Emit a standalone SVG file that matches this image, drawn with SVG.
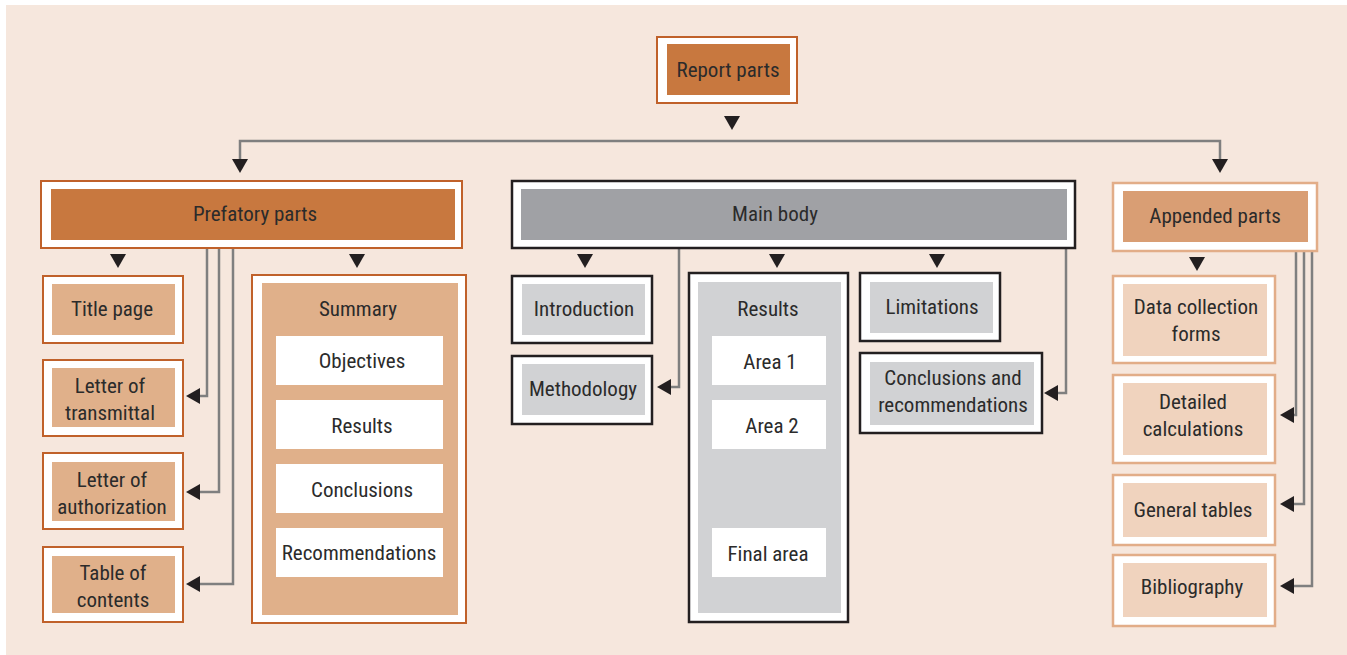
<svg xmlns="http://www.w3.org/2000/svg" width="1347" height="655" viewBox="0 0 1347 655">
<defs>
<style>
.t{font-family:"Liberation Sans Narrow","Roboto Condensed","DejaVu Sans Condensed","Liberation Sans",sans-serif;font-size:21px;fill:#2b2b2b;text-anchor:middle;dominant-baseline:central}
.ow{fill:#ffffff;stroke:#c0612a;stroke-width:2}
.ob{fill:#ffffff;stroke:#231f20;stroke-width:2.5}
.oa{fill:#ffffff;stroke:#e2ad88;stroke-width:2.5}
.f1{fill:#c8783f}
.f2{fill:#e0b08a}
.g1{fill:#a0a1a5}
.g2{fill:#d1d2d4}
.a1{fill:#d99e74}
.a2{fill:#f0d3be}
.w{fill:#ffffff}
.ln{fill:none;stroke:#7f7f7f;stroke-width:2.5}
.ar{fill:#231f20}
</style>
<path id="dn" d="M-8,-14 L8,-14 L0,0 Z"/>
<path id="lt" d="M0,0 L14,-8 L14,8 Z"/>
</defs>
<rect x="6" y="5" width="1341" height="650" fill="#f6e7dd"/>

<g id="connectors">
<path class="ln" d="M240,160 V141 H1220 V160"/>
<path class="ln" d="M207,248 V396 H198"/>
<path class="ln" d="M219,248 V492 H198"/>
<path class="ln" d="M233,248 V584 H198"/>
<path class="ln" d="M679,247 V387 H669"/>
<path class="ln" d="M1066,247 V393 H1056"/>
<path class="ln" d="M1296,251 V415 H1292"/>
<path class="ln" d="M1304,251 V504 H1292"/>
<path class="ln" d="M1312,251 V586 H1292"/>
<g class="ar">
<use href="#dn" x="732" y="130"/>
<use href="#dn" x="240" y="173"/>
<use href="#dn" x="1220" y="173"/>
<use href="#dn" x="118" y="268"/>
<use href="#dn" x="357" y="268"/>
<use href="#dn" x="585" y="268"/>
<use href="#dn" x="777" y="268"/>
<use href="#dn" x="937" y="268"/>
<use href="#dn" x="1197" y="271"/>
<use href="#lt" x="186" y="396"/>
<use href="#lt" x="186" y="492"/>
<use href="#lt" x="186" y="584"/>
<use href="#lt" x="657" y="387"/>
<use href="#lt" x="1044" y="393"/>
<use href="#lt" x="1280" y="415"/>
<use href="#lt" x="1280" y="504"/>
<use href="#lt" x="1280" y="586"/>
</g>
</g>

<g id="report-parts">
<rect class="ow" x="657" y="37" width="140" height="66"/>
<rect class="f1" x="667" y="44" width="123" height="51"/>
<text class="t" x="728" y="70">Report parts</text>
</g>

<g id="prefatory-parts">
<rect class="ow" x="41" y="181" width="421" height="67"/>
<rect class="f1" x="51" y="189" width="404" height="51"/>
<text class="t" x="255" y="214">Prefatory parts</text>
</g>
<g id="title-page">
<rect class="ow" x="43" y="276" width="140" height="67"/>
<rect class="f2" x="52" y="284" width="123" height="51"/>
<text class="t" x="112" y="309">Title page</text>
</g>
<g id="letter-of-transmittal">
<rect class="ow" x="43" y="360" width="140" height="76"/>
<rect class="f2" x="52" y="368" width="123" height="59"/>
<text class="t" x="110" y="386">Letter of</text>
<text class="t" x="110" y="413">transmittal</text>
</g>
<g id="letter-of-authorization">
<rect class="ow" x="43" y="453" width="140" height="76"/>
<rect class="f2" x="52" y="462" width="123" height="59"/>
<text class="t" x="112" y="480">Letter of</text>
<text class="t" x="112" y="507">authorization</text>
</g>
<g id="table-of-contents">
<rect class="ow" x="43" y="547" width="140" height="75"/>
<rect class="f2" x="52" y="556" width="123" height="57"/>
<text class="t" x="113" y="573">Table of</text>
<text class="t" x="113" y="600">contents</text>
</g>
<g id="summary">
<rect class="ow" x="252" y="275" width="214" height="348"/>
<rect class="f2" x="262" y="283" width="196" height="332"/>
<text class="t" x="358" y="309">Summary</text>
<rect class="w" x="276" y="336" width="167" height="49"/>
<text class="t" x="362" y="361">Objectives</text>
<rect class="w" x="276" y="400" width="167" height="49"/>
<text class="t" x="362" y="426">Results</text>
<rect class="w" x="276" y="464" width="167" height="49"/>
<text class="t" x="362" y="490">Conclusions</text>
<rect class="w" x="276" y="528" width="167" height="49"/>
<text class="t" x="359" y="553">Recommendations</text>
</g>

<g id="main-body">
<rect class="ob" x="512" y="181" width="563" height="67"/>
<rect class="g1" x="521" y="189" width="546" height="51"/>
<text class="t" x="775" y="214">Main body</text>
</g>
<g id="introduction">
<rect class="ob" x="512" y="276" width="140" height="67"/>
<rect class="g2" x="522" y="284" width="123" height="51"/>
<text class="t" x="584" y="309">Introduction</text>
</g>
<g id="methodology">
<rect class="ob" x="512" y="356" width="140" height="68"/>
<rect class="g2" x="522" y="364" width="123" height="51"/>
<text class="t" x="583" y="389">Methodology</text>
</g>
<g id="results">
<rect class="ob" x="689" y="273" width="159" height="349"/>
<rect class="g2" x="698" y="282" width="143" height="331"/>
<text class="t" x="768" y="309">Results</text>
<rect class="w" x="712" y="336" width="114" height="49"/>
<text class="t" x="770" y="362">Area 1</text>
<rect class="w" x="712" y="400" width="114" height="49"/>
<text class="t" x="772" y="426">Area 2</text>
<rect class="w" x="712" y="528" width="114" height="49"/>
<text class="t" x="768" y="554">Final area</text>
</g>
<g id="limitations">
<rect class="ob" x="860" y="273" width="140" height="68"/>
<rect class="g2" x="870" y="282" width="123" height="51"/>
<text class="t" x="932" y="307">Limitations</text>
</g>
<g id="conclusions-and-recommendations">
<rect class="ob" x="860" y="353" width="182" height="80"/>
<rect class="g2" x="870" y="362" width="164" height="63"/>
<text class="t" x="953" y="378">Conclusions and</text>
<text class="t" x="953" y="405">recommendations</text>
</g>

<g id="appended-parts">
<rect class="oa" x="1113" y="183" width="204" height="68"/>
<rect class="a1" x="1123" y="191" width="185" height="51"/>
<text class="t" x="1215" y="216">Appended parts</text>
</g>
<g id="data-collection-forms">
<rect class="oa" x="1113" y="276" width="162" height="87"/>
<rect class="a2" x="1123" y="284" width="144" height="72"/>
<text class="t" x="1196" y="307">Data collection</text>
<text class="t" x="1196" y="334">forms</text>
</g>
<g id="detailed-calculations">
<rect class="oa" x="1113" y="375" width="162" height="88"/>
<rect class="a2" x="1123" y="383" width="144" height="72"/>
<text class="t" x="1193" y="402">Detailed</text>
<text class="t" x="1193" y="429">calculations</text>
</g>
<g id="general-tables">
<rect class="oa" x="1113" y="475" width="162" height="70"/>
<rect class="a2" x="1123" y="483" width="144" height="54"/>
<text class="t" x="1193" y="510">General tables</text>
</g>
<g id="bibliography">
<rect class="oa" x="1113" y="555" width="162" height="71"/>
<rect class="a2" x="1123" y="563" width="144" height="54"/>
<text class="t" x="1192" y="587">Bibliography</text>
</g>
</svg>
